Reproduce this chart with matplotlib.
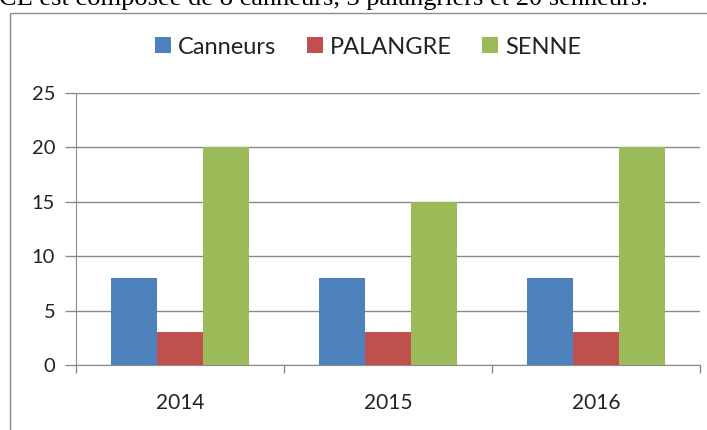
import matplotlib
matplotlib.use("Agg")
import matplotlib.pyplot as plt
import numpy as np
from matplotlib.patches import Rectangle

years = ["2014", "2015", "2016"]
series_names = ["Canneurs", "PALANGRE", "SENNE"]
canneurs = [8, 8, 8]
palangre = [3, 3, 3]
senne = [20, 15, 20]
colors = ["#4F81BD", "#C0504D", "#9BBB59"]
yticks = [0, 5, 10, 15, 20, 25]

plt.rcParams['font.family'] = ['Lato', 'DejaVu Sans']

fig = plt.figure(figsize=(7.07, 4.30), dpi=100)
W, H = 707, 430

# document text clipped at top
fig.text(-0.002, 1 - 5 / H, "CE est composée de 8 canneurs, 3 palangriers et 20 senneurs.",
         family=['Liberation Serif'], fontsize=19, ha='left', va='baseline', color='black')

# chart frame
fig.patches.append(Rectangle((10 / W, -0.1), 1.2, 1 - 12.5 / H + 0.1, transform=fig.transFigure,
                             fill=True, facecolor='white', edgecolor='#8c8c8c', linewidth=1.0, zorder=0))

ax = fig.add_axes([76 / W, 1 - 365 / H, (700 - 76) / W, (365 - 93) / H])
ax.set_facecolor('none')
ax.set_zorder(2)

x = np.arange(len(years))
bw = 1 / 4.5
for i, (name, vals) in enumerate(zip(series_names, [canneurs, palangre, senne])):
    ax.bar(x + (i - 1) * bw, vals, width=bw, color=colors[i], label=name, zorder=3)

ax.set_ylim(0, 25)
ax.set_xlim(-0.5, 2.5)
ax.set_yticks(yticks)
ax.set_yticklabels([str(t) for t in yticks], fontsize=14.5, color='#222222')
ax.yaxis.grid(True, color='#8a8a8a', linewidth=1.0, zorder=0)
ax.set_axisbelow(True)
ax.tick_params(axis='y', length=8, width=1.0, color='#8a8a8a', pad=7)

ax.set_xticks([-0.5, 0.5, 1.5, 2.5])
ax.set_xticklabels([])
ax.set_xticks(x, minor=True)
ax.set_xticklabels(years, minor=True, fontsize=15, color='#222222')
ax.tick_params(axis='x', which='major', length=6, width=1.0, color='#8a8a8a')
ax.tick_params(axis='x', which='minor', length=0, pad=20)

for s in ['top', 'right']:
    ax.spines[s].set_visible(False)
ax.spines['left'].set_color('#8a8a8a')
ax.spines['bottom'].set_color('#8a8a8a')

leg = fig.legend(loc='center', bbox_to_anchor=(368 / W, 1 - 47 / H), ncol=3, frameon=False,
                 fontsize=17, handlelength=0.68, handleheight=0.65, handletextpad=0.28,
                 columnspacing=1.3)
for t in leg.get_texts():
    t.set_color('#222222')
leg.set_zorder(3)

fig.savefig("out.png", dpi=100)
